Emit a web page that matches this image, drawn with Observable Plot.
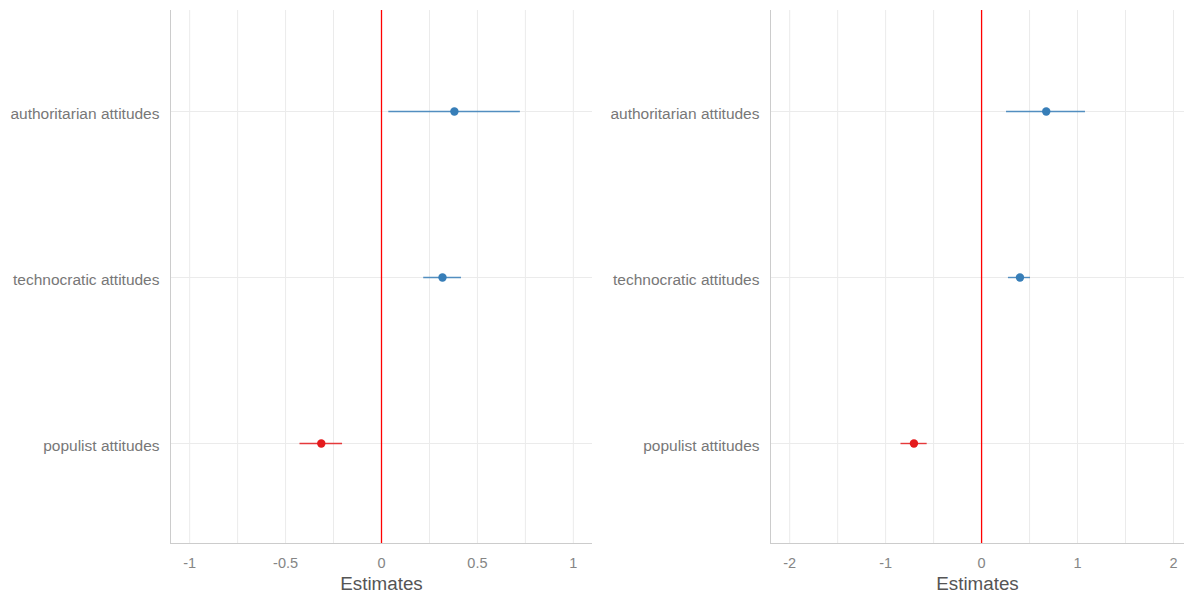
<!DOCTYPE html>
<html>
<head>
<meta charset="utf-8">
<script src="https://cdn.jsdelivr.net/npm/d3@7"></script>
<script src="https://cdn.jsdelivr.net/npm/@observablehq/plot@0.6"></script>
<style>
  html, body { margin: 0; padding: 0; background: #fff; }
  #wrap { display: flex; width: 1184px; height: 596px; overflow: hidden; }
  #wrap svg { flex: none; }
</style>
</head>
<body>
<div id="wrap"></div>
<script>
// Model terms, top to bottom
const terms = ["authoritarian attitudes", "technocratic attitudes", "populist attitudes"];

// Left model: estimates and confidence bounds
const leftEst  = [0.38, 0.318, -0.314];
const leftLow  = [0.038, 0.22, -0.425];
const leftHigh = [0.724, 0.417, -0.203];
const leftTicks = [-1, -0.5, 0, 0.5, 1];
const leftGrid = [-1, -0.75, -0.5, -0.25, 0, 0.25, 0.5, 0.75, 1];

// Right model: estimates and confidence bounds
const rightEst  = [0.674, 0.40, -0.705];
const rightLow  = [0.26, 0.28, -0.84];
const rightHigh = [1.083, 0.51, -0.567];
const rightTicks = [-2, -1, 0, 1, 2];
const rightGrid = [-2, -1.5, -1, -0.5, 0, 0.5, 1, 1.5, 2];

const POS = "#377eb8";
const NEG = "#e41a1c";

function rows(est, low, high) {
  return terms.map((t, i) => ({term: t, est: est[i], low: low[i], high: high[i]}));
}

function panel({data, domain, ticks, grid, marginLeft}) {
  const color = d => d.est >= 0 ? POS : NEG;
  return Plot.plot({
    width: 592,
    height: 596,
    marginTop: 10,
    marginBottom: 53,
    marginLeft,
    marginRight: 0,
    style: {fontFamily: "'Liberation Sans', Arial, sans-serif", background: "#fff", overflow: "visible"},
    x: {domain, ticks, tickFormat: d => String(d)},
    y: {type: "point", domain: terms, padding: 0.6},
    marks: [
      Plot.ruleX(grid, {stroke: "#ebebeb", strokeWidth: 1}),
      Plot.ruleY(terms, {y: d => d, stroke: "#ebebeb", strokeWidth: 1}),
      Plot.frame({anchor: "left", stroke: "#cccccc"}),
      Plot.frame({anchor: "bottom", stroke: "#cccccc"}),
      Plot.ruleX([0], {stroke: "#ff0000", strokeWidth: 1.3}),
      Plot.ruleY(data, {y: "term", x1: "low", x2: "high", stroke: color, strokeWidth: 1.4, strokeOpacity: 0.85}),
      Plot.dot(data, {x: "est", y: "term", fill: color, r: 4.2}),
      Plot.axisX({ticks, tickSize: 0, tickPadding: 14, fontSize: 14.5, color: "#858585", label: null, tickFormat: d => String(d)}),
      Plot.axisY({tickSize: 0, tickPadding: 11, fontSize: 15.5, color: "#777777", label: null, dy: 3}),
      Plot.text(["Estimates"], {frameAnchor: "bottom", dy: 46, fontSize: 18.8, fill: "#555555"})
    ]
  });
}

const wrap = document.getElementById("wrap");
wrap.appendChild(panel({
  data: rows(leftEst, leftLow, leftHigh),
  domain: [-1.1, 1.1], ticks: leftTicks, grid: leftGrid, marginLeft: 170
}));
wrap.appendChild(panel({
  data: rows(rightEst, rightLow, rightHigh),
  domain: [-2.2, 2.115], ticks: rightTicks, grid: rightGrid, marginLeft: 178
}));
</script>
</body>
</html>
